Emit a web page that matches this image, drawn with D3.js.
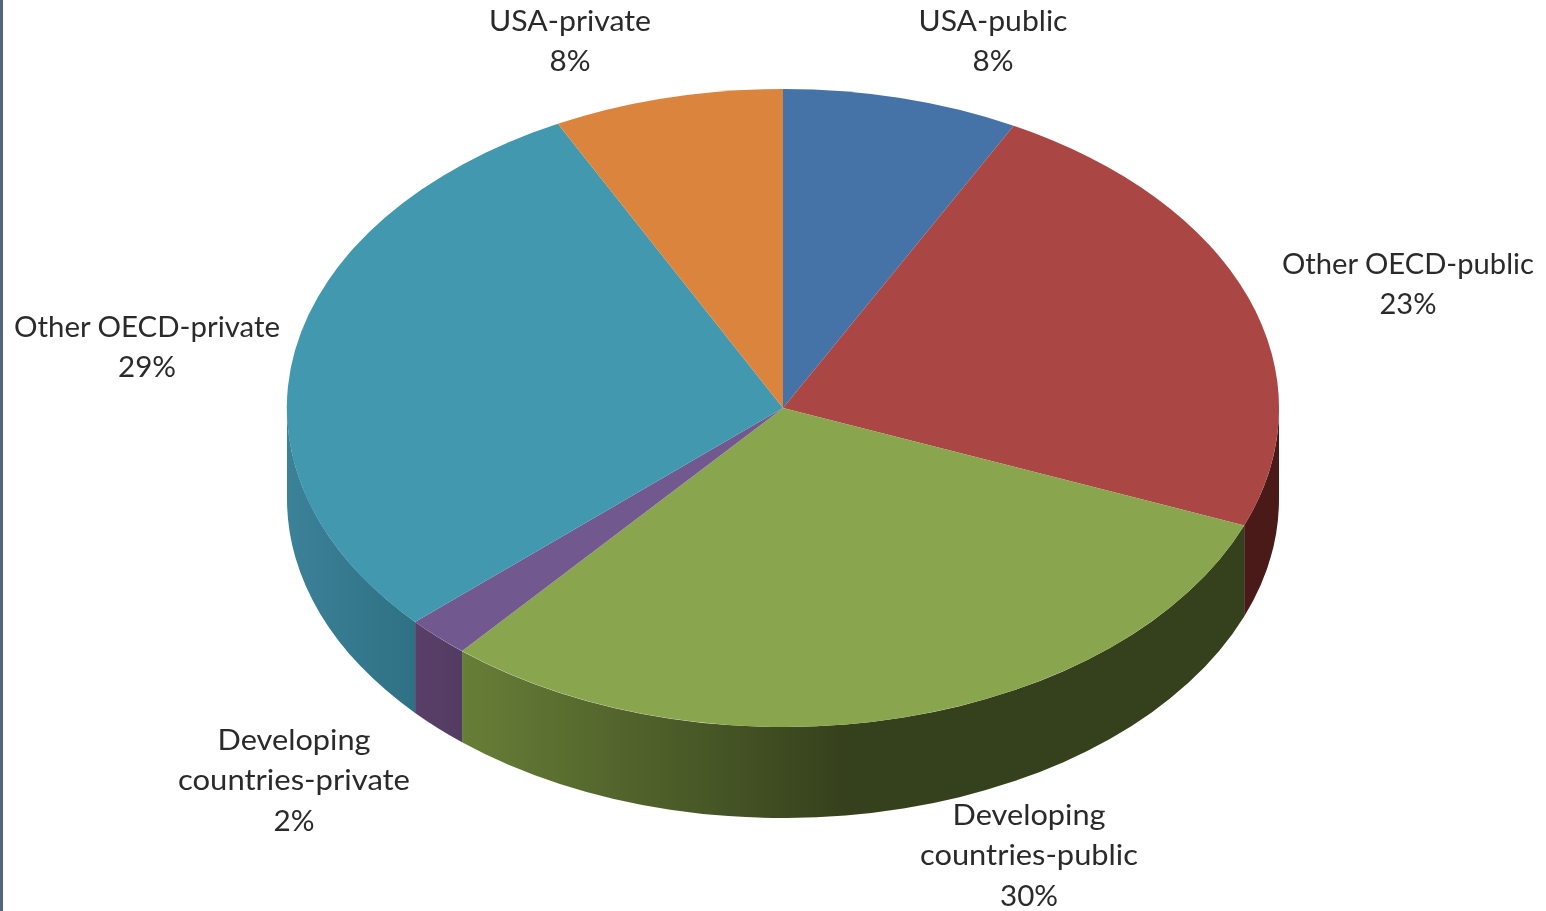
<!DOCTYPE html>
<html>
<head>
<meta charset="utf-8">
<script src="https://cdn.jsdelivr.net/npm/d3@7"></script>
<style>
html,body{margin:0;padding:0;background:#fff;overflow:hidden}
svg{display:block}
text{font-family:Lato,"Open Sans",sans-serif;font-size:29px;fill:#2a2a2a;text-anchor:middle}
</style>
</head>
<body>
<div id="chart"></div>
<script>
const categories = ["USA-public","Other OECD-public","Developing countries-public","Developing countries-private","Other OECD-private","USA-private"];
const values = [7.7,23.3,30.2,2.1,29.2,7.5];
const topColors = ["#4572a7","#aa4643","#89a54e","#71588f","#4198af","#db843d"];
const sideStops = [
  ["#35587f","#2c4a6c"],
  ["#4a1a18","#4a1a18"],
  ["#677e37","#35401c"],
  ["#5a3f68","#523c62"],
  ["#3b8198","#2f7184"],
  ["#9a5a28","#9a5a28"]
];
const labelLines = [["USA-public"],["Other OECD-public"],["Developing","countries-public"],["Developing","countries-private"],["Other OECD-private"],["USA-private"]];
const labelWidths = [[149,41],[252,57],[153,218,58],[153,232,41],[266,58],[162,41]];
const labelAnchors = [[993,21],[1408,264],[1029,815],[294,740],[147,327],[570,21]];

const W=1546,H=911,cx=783,cy=408,rx=496,ry=319,depth=91,lineH=40.25;
const svg=d3.select("#chart").append("svg").attr("width",W).attr("height",H);
svg.append("rect").attr("width",W).attr("height",H).attr("fill","#fff");
svg.append("rect").attr("x",0).attr("y",0).attr("width",3).attr("height",H).attr("fill","#54667e");

const pie=d3.pie().sort(null).value(d=>d)(values);
const arc=d3.arc().innerRadius(0).outerRadius(1);
const px=a=>cx+rx*Math.sin(a), py=a=>cy-ry*Math.cos(a);

const defs=svg.append("defs");
defs.append("filter").attr("id","soft").append("feGaussianBlur").attr("stdDeviation",0.45);
// side walls (only the front half of the ellipse is visible)
const front=[Math.PI/2,3*Math.PI/2];
const sides=pie.map((d,i)=>({i,a0:Math.max(d.startAngle,front[0]),a1:Math.min(d.endAngle,front[1])})).filter(s=>s.a1>s.a0);
sides.forEach(s=>{
  const id="side"+s.i;
  const x0=px(s.a1),x1=px(s.a0);
  const lg=defs.append("linearGradient").attr("id",id).attr("gradientUnits","userSpaceOnUse")
    .attr("x1",Math.min(x0,x1)).attr("x2",s.i===2?850:Math.max(x0,x1)).attr("y1",0).attr("y2",0);
  lg.append("stop").attr("offset",0).attr("stop-color",sideStops[s.i][0]);
  lg.append("stop").attr("offset",1).attr("stop-color",sideStops[s.i][1]);
});
const sidePath=s=>{
  let str=`M${px(s.a0)},${py(s.a0)}A${rx},${ry} 0 0 1 ${px(s.a1)},${py(s.a1)}`;
  str+=`L${px(s.a1)},${py(s.a1)+depth}A${rx},${ry} 0 0 0 ${px(s.a0)},${py(s.a0)+depth}Z`;
  return str;
};
svg.append("g").selectAll("path").data(sides).join("path")
  .attr("d",sidePath).attr("fill",s=>`url(#side${s.i})`);

// top face: unit pie scaled into the ellipse
svg.append("g").attr("transform",`translate(${cx},${cy}) scale(${rx},${ry})`)
  .selectAll("path").data(pie).join("path")
  .attr("d",arc).attr("fill",(d,i)=>topColors[i]);

// labels
const labels=svg.append("g").attr("filter","url(#soft)").selectAll("text").data(categories).join("text");
labels.each(function(c,i){
  const t=d3.select(this),[x,y]=labelAnchors[i];
  const lines=[...labelLines[i],Math.round(values[i])+"%"];
  lines.forEach((l,k)=>{
    t.append("tspan").attr("x",x).attr("y",y+k*lineH+10)
      .attr("textLength",labelWidths[i][k]).attr("lengthAdjust","spacingAndGlyphs").text(l);
  });
});
</script>
</body>
</html>
